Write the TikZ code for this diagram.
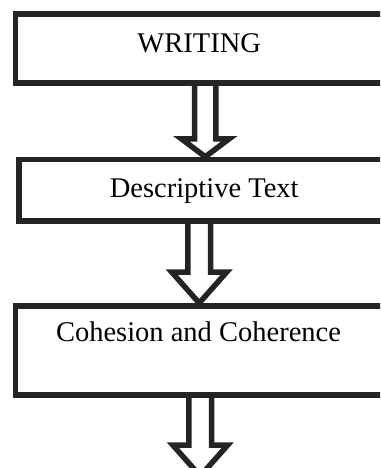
\documentclass[tikz,border=0pt]{standalone}
\usepackage{fontspec}
\setmainfont{Liberation Serif}
\usepackage{tikz}
\usetikzlibrary{calc}
\newcommand{\blockarrow}[5]{%
\draw[barrow] ([xshift=-#3]#1) -- ([xshift=-#3,yshift=#5]#2) -- ([xshift=-#4,yshift=#5]#2) -- (#2)
 -- ([xshift=#4,yshift=#5]#2) -- ([xshift=#3,yshift=#5]#2) -- ([xshift=#3]#1);}

\begin{document}
\begin{tikzpicture}[x=1pt,y=-1pt]
%%%%%%%%%%%%%%%%%%%%%%%%%%%%%%%%%%%%%%%%%%%%%%%%%%%%%%%%%%%%%%
%styles
\definecolor{inkgray}{rgb}{0.14,0.14,0.14}
\tikzstyle{box}=[rectangle,draw=inkgray,line width=5.5pt,inner sep=0pt,fill=white]
\tikzstyle{txt}=[inner sep=0pt,anchor=base,text=black,font=\fontsize{28.5}{34}\selectfont]
\tikzstyle{barrow}=[draw=inkgray,line width=5.5pt,miter limit=20]
\useasboundingbox (0,0) rectangle (380,468);
\clip (0,0) rectangle (380,468);
%boxes
\node[box,minimum width=379.5pt,minimum height=68.8pt] (writing) at (205.25,48.6) {};
\node[box,minimum width=372pt,minimum height=61.5pt] (desc) at (205,190.25) {};
\node[box,minimum width=369.5pt,minimum height=89.2pt] (coh) at (200.25,350.4) {};
%%texts
\node[txt] (writingtxt) at (199.2,52.7) {WRITING};
\node[txt] (desctxt) at (204.2,197.5) {Descriptive Text};
\node[txt] (cohtxt) at (198.5,341.7) {Cohesion and Coherence};
%ends
\coordinate (a1e) at (writing.south |- desc.north);
\coordinate (a2s) at ([xshift=-5.8pt]desc.south);
\coordinate (a2e) at (a2s |- coh.north);
\coordinate (a3e) at ([yshift=-31pt]coh.south |- 0,445);
%%%%%%%%%%%%%%%%%%%%%%%%%%%%%%%%%%%%%%%%%%%%%%%%%%%%%%%%%%%%%%
%ARROWS
\blockarrow{writing.south}{a1e}{10.6pt}{24pt}{18pt}
\blockarrow{a2s}{a2e}{11.4pt}{27.5pt}{31pt}
\blockarrow{coh.south}{a3e}{11.4pt}{27.5pt}{31pt}
\end{tikzpicture}
\end{document}
